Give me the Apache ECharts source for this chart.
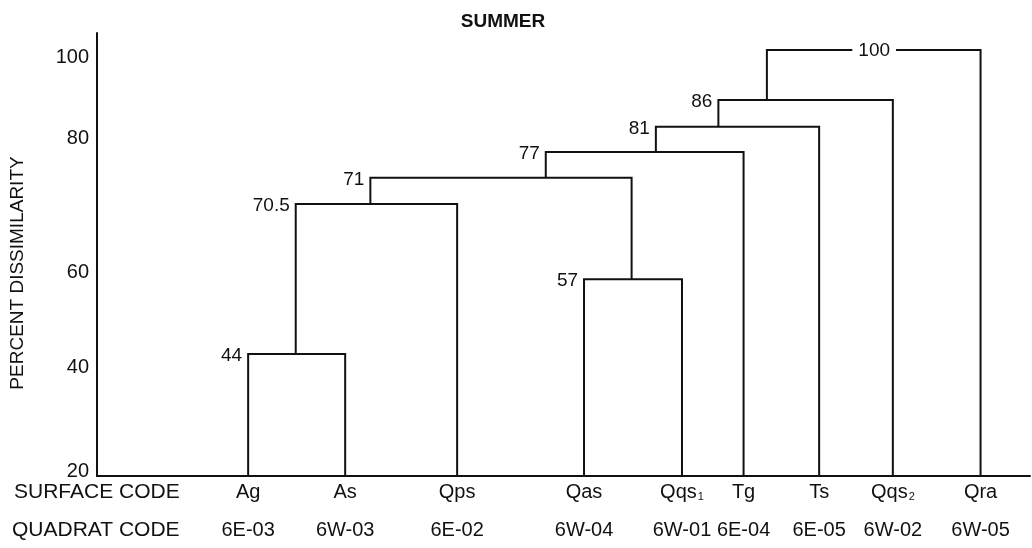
<!DOCTYPE html>
<html>
<head>
<meta charset="utf-8">
<script src="https://cdn.jsdelivr.net/npm/echarts@6/dist/echarts.min.js"></script>
<style>
html,body{margin:0;padding:0;background:#fff;}
#chart{width:1032px;height:548px;}
</style>
</head>
<body>
<div id="chart"></div>
<script>
// ---- data ----
const title = 'SUMMER';
const yTitle = 'PERCENT DISSIMILARITY';
const rowTitles = ['SURFACE CODE', 'QUADRAT CODE'];
const leaves = ['Ag', 'As', 'Qps', 'Qas', 'Qqs{sub|1}', 'Tg', 'Ts', 'Qqs{sub|2}', 'Qra'];
const quadrats = ['6E-03', '6W-03', '6E-02', '6W-04', '6W-01', '6E-04', '6E-05', '6W-02', '6W-05'];
// leaf positions along the base line (as drawn, irregular spacing)
const leafPos = [16.2, 26.6, 38.6, 52.2, 62.7, 69.3, 77.4, 85.3, 94.7];
// printed y tick labels and the level at which each is printed (drawn scale is not uniform)
const tickLabels = [20, 40, 60, 80, 100];
const tickLevels = [19.8, 40.0, 58.6, 84.6, 100.3];
// merges: printed dissimilarity, drawn level, children, attach point of the merged cluster
const mergeValues = [44, 70.5, 57, 71, 77, 81, 86, 100];
const mergeLevels = [42.7, 71.8, 57.2, 76.9, 81.9, 86.8, 92.0, 101.7];
const mergeLeft  = ['L0', 'N0', 'L3', 'N1', 'N3', 'N4', 'N5', 'N6'];
const mergeRight = ['L1', 'L2', 'L4', 'N2', 'L5', 'L6', 'L7', 'L8'];
const mergeX = [21.3, 29.3, 57.3, 48.1, 59.9, 66.6, 71.8, 83.3];

const Y_MIN = 19, Y_MAX = 105;

function ref(id) {
  const k = +id.slice(1);
  return id[0] === 'L' ? [leafPos[k], Y_MIN] : [mergeX[k], mergeLevels[k]];
}

const ink = '#111111';
const font = '"Liberation Sans", Arial, Helvetica, sans-serif';

const chart = echarts.init(document.getElementById('chart'), null, {renderer: 'canvas'});

chart.setOption({
  backgroundColor: '#fff',
  animation: false,
  title: {
    text: title, left: 498, top: 7, textAlign: 'center',
    textStyle: {fontFamily: font, fontSize: 19, fontWeight: 'bold', color: ink}
  },
  grid: {left: 97, right: 2, top: 33, bottom: 72},
  xAxis: [{
    type: 'value', min: 0, max: 100,
    axisLine: {show: true, onZero: false, lineStyle: {color: ink, width: 2}},
    axisTick: {show: false}, splitLine: {show: false},
    axisLabel: {
      customValues: leafPos, margin: 6, color: ink, fontFamily: font, fontSize: 20,
      formatter: v => leaves[leafPos.indexOf(v)],
      rich: {sub: {fontFamily: font, fontSize: 11, color: ink, verticalAlign: 'bottom', padding: [7, 0, 0, 1]}}
    }
  }, {
    type: 'value', min: 0, max: 100, position: 'bottom',
    axisLine: {show: false}, axisTick: {show: false}, splitLine: {show: false},
    axisLabel: {
      customValues: leafPos, margin: 44, color: ink, fontFamily: font, fontSize: 20,
      formatter: v => quadrats[leafPos.indexOf(v)]
    }
  }],
  yAxis: {
    type: 'value', min: Y_MIN, max: Y_MAX,
    axisLine: {show: true, lineStyle: {color: ink, width: 2}},
    axisTick: {show: false}, splitLine: {show: false},
    axisLabel: {
      customValues: tickLevels, margin: 8, color: ink, fontFamily: font, fontSize: 20,
      formatter: v => String(tickLabels[tickLevels.indexOf(v)])
    }
  },
  graphic: [
    {type: 'text', x: 18, y: 273, rotation: Math.PI / 2,
     style: {text: yTitle, fill: ink, font: '19px ' + font, align: 'center', verticalAlign: 'middle'}},
    {type: 'text', x: 14, y: 492,
     style: {text: rowTitles[0], fill: ink, font: '21px ' + font, align: 'left', verticalAlign: 'middle'}},
    {type: 'text', x: 12, y: 530,
     style: {text: rowTitles[1], fill: ink, font: '21px ' + font, align: 'left', verticalAlign: 'middle'}}
  ],
  series: [{
    type: 'custom',
    data: mergeValues.map((v, i) => [i]),
    renderItem: (params, api) => {
      const i = params.dataIndex;
      const l = ref(mergeLeft[i]), r = ref(mergeRight[i]);
      const lv = mergeLevels[i];
      const p0 = api.coord(l), p1 = api.coord([l[0], lv]), p2 = api.coord([r[0], lv]), p3 = api.coord(r);
      const isTop = i === mergeValues.length - 1;
      const children = [{
        type: 'polyline', shape: {points: [p0, p1, p2, p3]},
        style: {stroke: ink, lineWidth: 2, fill: null, lineJoin: 'miter'}
      }];
      if (isTop) {
        const c = api.coord([mergeX[i], lv]);
        children.push({type: 'text', x: c[0], y: c[1] + 1, z2: 10,
          style: {text: String(mergeValues[i]), fill: ink, font: '19px ' + font,
                  align: 'center', verticalAlign: 'middle', backgroundColor: '#fff', padding: [2, 6]}});
      } else {
        children.push({type: 'text', x: p1[0] - 6, y: p1[1] + 2, z2: 10,
          style: {text: String(mergeValues[i]), fill: ink, font: '19px ' + font,
                  align: 'right', verticalAlign: 'middle'}});
      }
      return {type: 'group', children: children};
    }
  }]
});
</script>
</body>
</html>
